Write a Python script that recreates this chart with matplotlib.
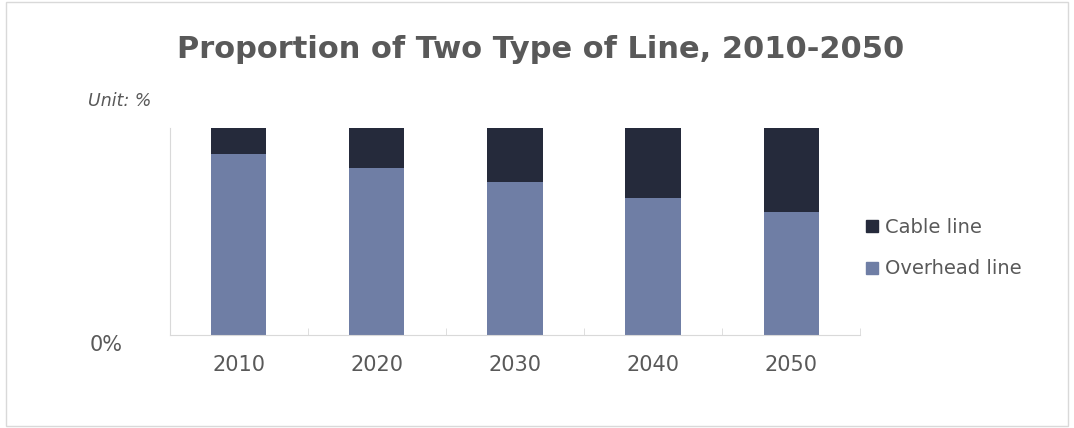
import numpy as np
import matplotlib.pyplot as plt
from matplotlib.patches import Rectangle
from matplotlib.lines import Line2D

years = ['2010', '2020', '2030', '2040', '2050']
overhead = [87.4, 80.6, 73.9, 66.1, 59.4]
cable = [100 - v for v in overhead]

c_over = '#6f7ea5'
c_cable = '#252a3b'
grey = '#595959'

fig = plt.figure(figsize=(10.74, 4.28), dpi=100)
fig.patches.append(Rectangle((0.006, 0.005), 0.988, 0.99, transform=fig.transFigure,
                             fill=False, edgecolor='#d9d9d9', lw=1))
ax = fig.add_axes([0.158, 0.217, 0.643, 0.484])

x = np.arange(len(years))
ax.bar(x, overhead, 0.4, color=c_over)
ax.bar(x, cable, 0.4, bottom=overhead, color=c_cable)

ax.set_xlim(-0.5, len(years) - 0.5)
ax.set_ylim(0, 100)
ax.set_yticks([0])
ax.set_yticklabels(['0%'])
ax.set_xticks(x)
ax.set_xticklabels(years)
ax.set_xticks(np.arange(len(years) + 1) - 0.5, minor=True)
ax.tick_params(axis='x', which='major', length=0, pad=14, labelsize=15, labelcolor=grey)
ax.tick_params(axis='x', which='minor', length=5, color='#d9d9d9', direction='in')
ax.tick_params(axis='y', length=0, pad=34, labelsize=15, labelcolor=grey)
for t in ax.get_yticklabels():
    t.set_va('top')
for s in ['top', 'right']:
    ax.spines[s].set_visible(False)
ax.spines['bottom'].set_color('#d9d9d9')
ax.spines['left'].set_color('#d9d9d9')

fig.text(0.503, 0.885, 'Proportion of Two Type of Line, 2010-2050', ha='center', va='center',
         fontsize=22, fontweight='bold', color=grey)
fig.text(0.082, 0.765, 'Unit: %', ha='left', va='center', fontsize=12.5,
         style='italic', color=grey)

handles = [Line2D([], [], marker='s', ls='', color=c_cable, markersize=8),
           Line2D([], [], marker='s', ls='', color=c_over, markersize=8)]
fig.legend(handles, ['Cable line', 'Overhead line'], loc='center left',
           bbox_to_anchor=(0.787, 0.42), frameon=False, fontsize=14,
           labelcolor=grey, handletextpad=0.15, labelspacing=1.15, handlelength=1)

fig.savefig('out.png', dpi=100)
